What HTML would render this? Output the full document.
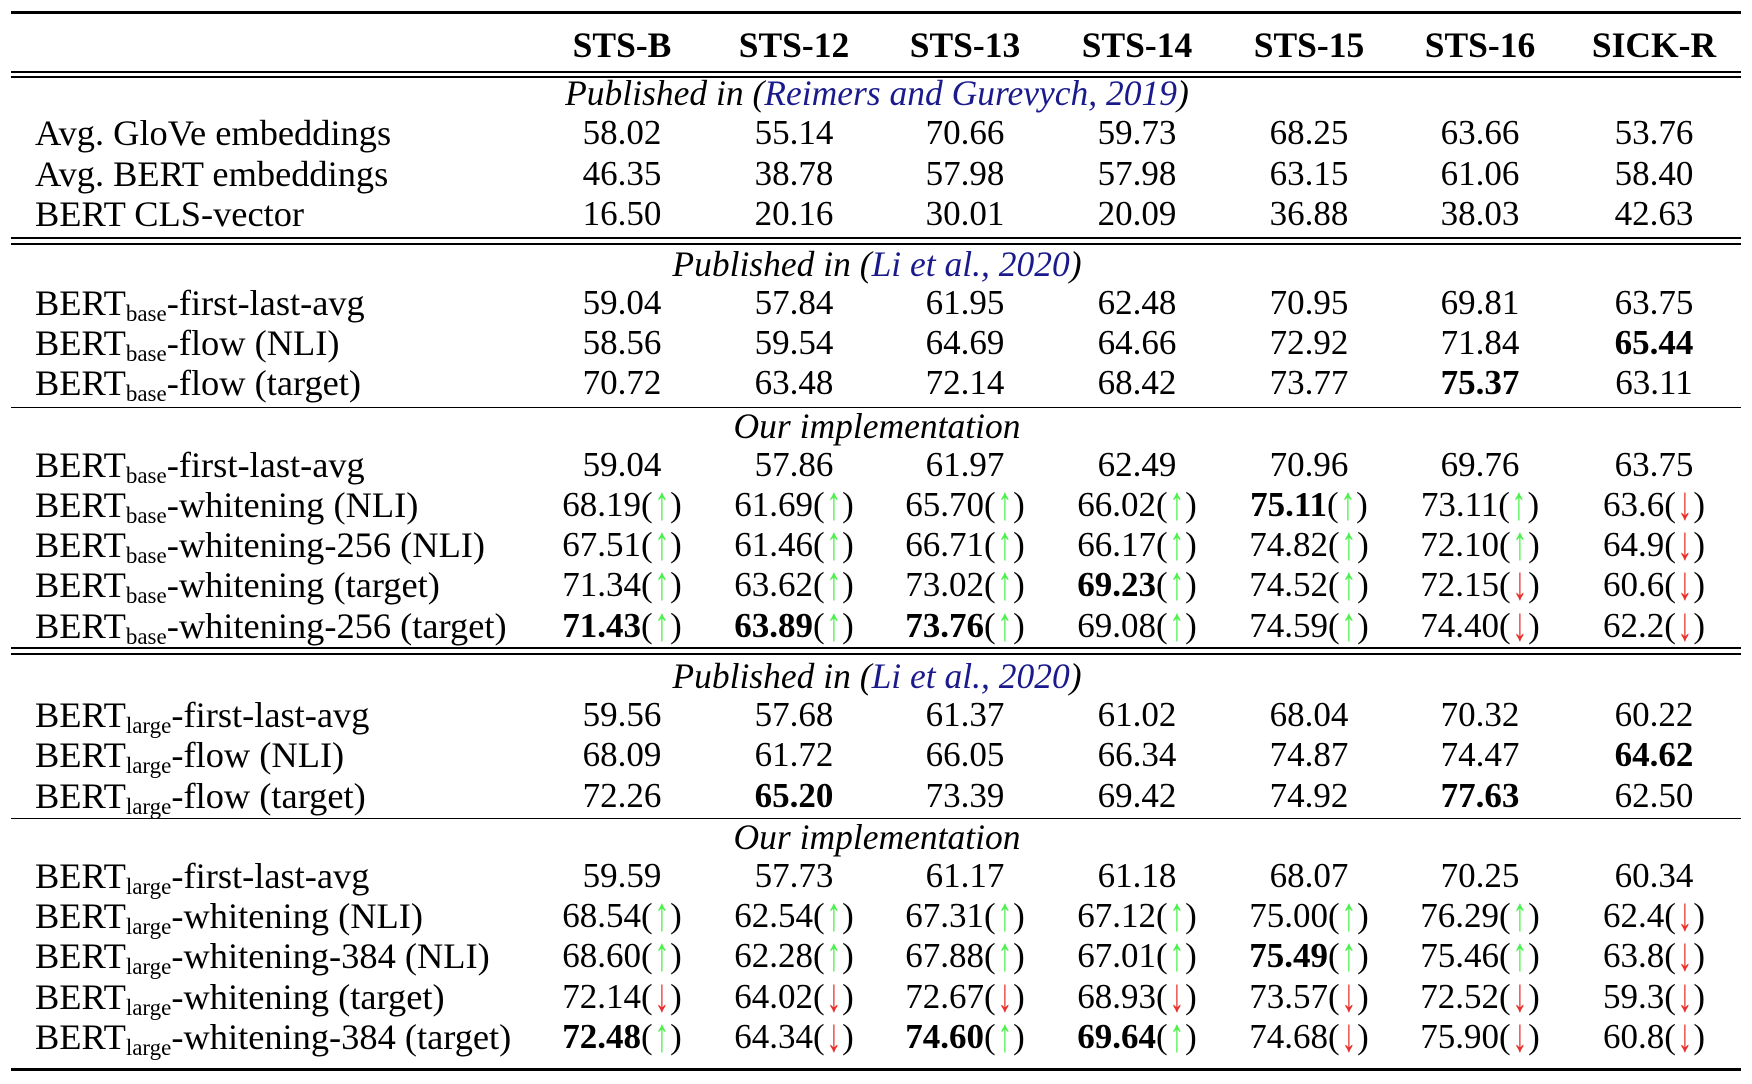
<!DOCTYPE html>
<html><head><meta charset="utf-8"><style>
body{margin:0;width:1752px;height:1084px;background:#fff;position:relative;overflow:hidden;font-family:"Liberation Serif",serif;font-size:35px;color:#000}
.r{position:absolute;left:0;width:1752px;height:40px;line-height:40px}
.l{position:absolute;left:35px;white-space:nowrap;font-size:36.4px}
.c{position:absolute;width:200px;text-align:center;white-space:nowrap}
.c1{left:522px}.c2{left:694px}.c3{left:865px}.c4{left:1037px}.c5{left:1209px}.c6{left:1380px}.c7{left:1554px}
.h{position:absolute;left:0;width:1752px;text-align:center;font-style:italic;height:40px;line-height:40px;font-size:35.5px}
.h .cx{position:relative;left:1px}
.b{color:#1a1a8c}
.line{position:absolute;left:11px;width:1730px;background:#000}
sub{font-size:23px;vertical-align:-6px;line-height:0}
.u,.d{display:inline-block;transform:scale(0.85,1.35);transform-origin:50% 55%}
.u{color:#4cf04c}.d{color:#e8302a}
.bd{font-weight:bold}
</style></head><body>
<div class="line" style="top:11px;height:3px"></div>
<div class="r bd" style="top:25px;font-size:35.5px"><span class="c c1">STS-B</span><span class="c c2">STS-12</span><span class="c c3">STS-13</span><span class="c c4">STS-14</span><span class="c c5">STS-15</span><span class="c c6">STS-16</span><span class="c c7">SICK-R</span></div>
<div class="line" style="top:71px;height:2px"></div>
<div class="line" style="top:76px;height:2px"></div>
<div class="h" style="top:73px"><span class="cx">Published in (<span class="b">Reimers and Gurevych, 2019</span>)</span></div>
<div class="r" style="top:113px"><span class="l">Avg. GloVe embeddings</span><span class="c c1">58.02</span><span class="c c2">55.14</span><span class="c c3">70.66</span><span class="c c4">59.73</span><span class="c c5">68.25</span><span class="c c6">63.66</span><span class="c c7">53.76</span></div>
<div class="r" style="top:154px"><span class="l">Avg. BERT embeddings</span><span class="c c1">46.35</span><span class="c c2">38.78</span><span class="c c3">57.98</span><span class="c c4">57.98</span><span class="c c5">63.15</span><span class="c c6">61.06</span><span class="c c7">58.40</span></div>
<div class="r" style="top:194px"><span class="l">BERT CLS-vector</span><span class="c c1">16.50</span><span class="c c2">20.16</span><span class="c c3">30.01</span><span class="c c4">20.09</span><span class="c c5">36.88</span><span class="c c6">38.03</span><span class="c c7">42.63</span></div>
<div class="line" style="top:237px;height:2px"></div>
<div class="line" style="top:243px;height:2px"></div>
<div class="h" style="top:244px"><span class="cx">Published in (<span class="b">Li et al., 2020</span>)</span></div>
<div class="r" style="top:283px"><span class="l">BERT<sub>base</sub>-first-last-avg</span><span class="c c1">59.04</span><span class="c c2">57.84</span><span class="c c3">61.95</span><span class="c c4">62.48</span><span class="c c5">70.95</span><span class="c c6">69.81</span><span class="c c7">63.75</span></div>
<div class="r" style="top:323px"><span class="l">BERT<sub>base</sub>-flow (NLI)</span><span class="c c1">58.56</span><span class="c c2">59.54</span><span class="c c3">64.69</span><span class="c c4">64.66</span><span class="c c5">72.92</span><span class="c c6">71.84</span><span class="c c7 bd">65.44</span></div>
<div class="r" style="top:363px"><span class="l">BERT<sub>base</sub>-flow (target)</span><span class="c c1">70.72</span><span class="c c2">63.48</span><span class="c c3">72.14</span><span class="c c4">68.42</span><span class="c c5">73.77</span><span class="c c6 bd">75.37</span><span class="c c7">63.11</span></div>
<div class="line" style="top:407px;height:1px"></div>
<div class="h" style="top:406px"><span class="cx">Our implementation</span></div>
<div class="r" style="top:445px"><span class="l">BERT<sub>base</sub>-first-last-avg</span><span class="c c1">59.04</span><span class="c c2">57.86</span><span class="c c3">61.97</span><span class="c c4">62.49</span><span class="c c5">70.96</span><span class="c c6">69.76</span><span class="c c7">63.75</span></div>
<div class="r" style="top:485px"><span class="l">BERT<sub>base</sub>-whitening (NLI)</span><span class="c c1">68.19(<span class="u">↑</span>)</span><span class="c c2">61.69(<span class="u">↑</span>)</span><span class="c c3">65.70(<span class="u">↑</span>)</span><span class="c c4">66.02(<span class="u">↑</span>)</span><span class="c c5"><b>75.11</b>(<span class="u">↑</span>)</span><span class="c c6">73.11(<span class="u">↑</span>)</span><span class="c c7">63.6(<span class="d">↓</span>)</span></div>
<div class="r" style="top:525px"><span class="l">BERT<sub>base</sub>-whitening-256 (NLI)</span><span class="c c1">67.51(<span class="u">↑</span>)</span><span class="c c2">61.46(<span class="u">↑</span>)</span><span class="c c3">66.71(<span class="u">↑</span>)</span><span class="c c4">66.17(<span class="u">↑</span>)</span><span class="c c5">74.82(<span class="u">↑</span>)</span><span class="c c6">72.10(<span class="u">↑</span>)</span><span class="c c7">64.9(<span class="d">↓</span>)</span></div>
<div class="r" style="top:565px"><span class="l">BERT<sub>base</sub>-whitening (target)</span><span class="c c1">71.34(<span class="u">↑</span>)</span><span class="c c2">63.62(<span class="u">↑</span>)</span><span class="c c3">73.02(<span class="u">↑</span>)</span><span class="c c4"><b>69.23</b>(<span class="u">↑</span>)</span><span class="c c5">74.52(<span class="u">↑</span>)</span><span class="c c6">72.15(<span class="d">↓</span>)</span><span class="c c7">60.6(<span class="d">↓</span>)</span></div>
<div class="r" style="top:606px"><span class="l">BERT<sub>base</sub>-whitening-256 (target)</span><span class="c c1"><b>71.43</b>(<span class="u">↑</span>)</span><span class="c c2"><b>63.89</b>(<span class="u">↑</span>)</span><span class="c c3"><b>73.76</b>(<span class="u">↑</span>)</span><span class="c c4">69.08(<span class="u">↑</span>)</span><span class="c c5">74.59(<span class="u">↑</span>)</span><span class="c c6">74.40(<span class="d">↓</span>)</span><span class="c c7">62.2(<span class="d">↓</span>)</span></div>
<div class="line" style="top:647px;height:2px"></div>
<div class="line" style="top:653px;height:2px"></div>
<div class="h" style="top:656px"><span class="cx">Published in (<span class="b">Li et al., 2020</span>)</span></div>
<div class="r" style="top:695px"><span class="l">BERT<sub>large</sub>-first-last-avg</span><span class="c c1">59.56</span><span class="c c2">57.68</span><span class="c c3">61.37</span><span class="c c4">61.02</span><span class="c c5">68.04</span><span class="c c6">70.32</span><span class="c c7">60.22</span></div>
<div class="r" style="top:735px"><span class="l">BERT<sub>large</sub>-flow (NLI)</span><span class="c c1">68.09</span><span class="c c2">61.72</span><span class="c c3">66.05</span><span class="c c4">66.34</span><span class="c c5">74.87</span><span class="c c6">74.47</span><span class="c c7 bd">64.62</span></div>
<div class="r" style="top:776px"><span class="l">BERT<sub>large</sub>-flow (target)</span><span class="c c1">72.26</span><span class="c c2 bd">65.20</span><span class="c c3">73.39</span><span class="c c4">69.42</span><span class="c c5">74.92</span><span class="c c6 bd">77.63</span><span class="c c7">62.50</span></div>
<div class="line" style="top:818px;height:1px"></div>
<div class="h" style="top:817px"><span class="cx">Our implementation</span></div>
<div class="r" style="top:856px"><span class="l">BERT<sub>large</sub>-first-last-avg</span><span class="c c1">59.59</span><span class="c c2">57.73</span><span class="c c3">61.17</span><span class="c c4">61.18</span><span class="c c5">68.07</span><span class="c c6">70.25</span><span class="c c7">60.34</span></div>
<div class="r" style="top:896px"><span class="l">BERT<sub>large</sub>-whitening (NLI)</span><span class="c c1">68.54(<span class="u">↑</span>)</span><span class="c c2">62.54(<span class="u">↑</span>)</span><span class="c c3">67.31(<span class="u">↑</span>)</span><span class="c c4">67.12(<span class="u">↑</span>)</span><span class="c c5">75.00(<span class="u">↑</span>)</span><span class="c c6">76.29(<span class="u">↑</span>)</span><span class="c c7">62.4(<span class="d">↓</span>)</span></div>
<div class="r" style="top:936px"><span class="l">BERT<sub>large</sub>-whitening-384 (NLI)</span><span class="c c1">68.60(<span class="u">↑</span>)</span><span class="c c2">62.28(<span class="u">↑</span>)</span><span class="c c3">67.88(<span class="u">↑</span>)</span><span class="c c4">67.01(<span class="u">↑</span>)</span><span class="c c5"><b>75.49</b>(<span class="u">↑</span>)</span><span class="c c6">75.46(<span class="u">↑</span>)</span><span class="c c7">63.8(<span class="d">↓</span>)</span></div>
<div class="r" style="top:977px"><span class="l">BERT<sub>large</sub>-whitening (target)</span><span class="c c1">72.14(<span class="d">↓</span>)</span><span class="c c2">64.02(<span class="d">↓</span>)</span><span class="c c3">72.67(<span class="d">↓</span>)</span><span class="c c4">68.93(<span class="d">↓</span>)</span><span class="c c5">73.57(<span class="d">↓</span>)</span><span class="c c6">72.52(<span class="d">↓</span>)</span><span class="c c7">59.3(<span class="d">↓</span>)</span></div>
<div class="r" style="top:1017px"><span class="l">BERT<sub>large</sub>-whitening-384 (target)</span><span class="c c1"><b>72.48</b>(<span class="u">↑</span>)</span><span class="c c2">64.34(<span class="d">↓</span>)</span><span class="c c3"><b>74.60</b>(<span class="u">↑</span>)</span><span class="c c4"><b>69.64</b>(<span class="u">↑</span>)</span><span class="c c5">74.68(<span class="d">↓</span>)</span><span class="c c6">75.90(<span class="d">↓</span>)</span><span class="c c7">60.8(<span class="d">↓</span>)</span></div>
<div class="line" style="top:1068px;height:3px"></div>
</body></html>
